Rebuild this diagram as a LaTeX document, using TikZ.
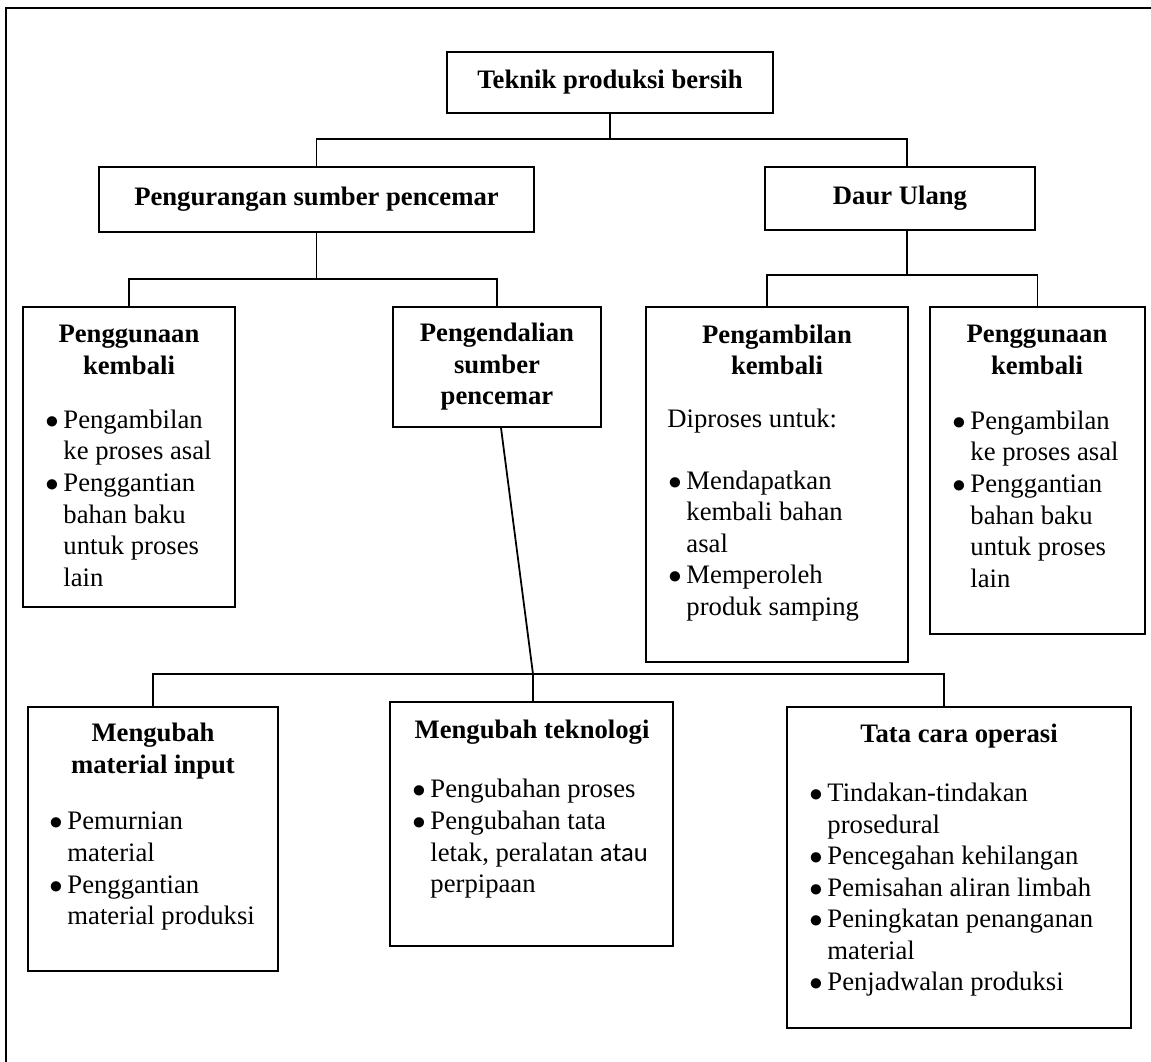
\documentclass[tikz,border=0pt]{standalone}
\usepackage{fontspec}
\setmainfont{Liberation Serif}
\newfontfamily\calibri{Carlito}
\usetikzlibrary{fit}
\newcommand{\px}{0.45pt}
\newcommand{\bodysize}{\fontsize{12}{14.2}\selectfont}
\newcommand{\blist}[1]{\begin{tabular}{@{}p{8.1pt}@{}l@{}}#1\end{tabular}}
\newcommand{\bul}{$\bullet$}

\begin{document}
\begin{tikzpicture}[x=0.45pt, y=-0.45pt,
    every node/.style={font=\bodysize, inner sep=0pt},
    box/.style={draw, line width=0.8pt},
    title/.style={align=center, font=\bodysize\bfseries},
    list/.style={anchor=west},
    link/.style={line width=0.8pt}]
  \useasboundingbox (0,0) rectangle (1151,1062);
  % page frame
  \draw[line width=1.1pt] (6,1062) -- (6,8) -- (1151,8);
  % top levels
  \node[box, fit={(447,52) (773,113)}] (top) {};
  \node[title] (topt) at (top) {Teknik produksi bersih};
  \node[box, fit={(99,167) (534,232)}] (reduce) {};
  \node[title] (reducet) at (reduce) {Pengurangan sumber pencemar};
  \node[box, fit={(765,167) (1035,230)}] (recycle) {};
  \node[title] (recyclet) at (recycle) {Daur Ulang};
  % boxes under Pengurangan
  \node[box, fit={(23,307) (235,607)}] (reuseA) {};
  \node[title] (reuseAt) at (129,350) {Penggunaan\\kembali};
  \node[list] (reuseAl) at (45,501) {\blist{%
    \bul & Pengambilan\\
         & ke proses asal\\
    \bul & Penggantian\\
         & bahan baku\\
         & untuk proses\\
         & lain}};
  \node[box, fit={(393,307) (601,427)}] (control) {};
  \node[title] (controlt) at (control) {Pengendalian\\sumber\\pencemar};
  % boxes under Daur Ulang
  \node[box, fit={(646,307) (908,662)}] (recover) {};
  \node[title] (recovert) at (777,350) {Pengambilan\\kembali};
  \node[list] (recoverp) at (667,421) {Diproses untuk:};
  \node[list] (recoverl) at (668,546) {\blist{%
    \bul & Mendapatkan\\
         & kembali bahan\\
         & asal\\
    \bul & Memperoleh\\
         & produk samping}};
  \node[box, fit={(930,307) (1145,634)}] (reuseB) {};
  \node[title] (reuseBt) at (1037,350) {Penggunaan\\kembali};
  \node[list] (reuseBl) at (952,502) {\blist{%
    \bul & Pengambilan\\
         & ke proses asal\\
    \bul & Penggantian\\
         & bahan baku\\
         & untuk proses\\
         & lain}};
  % boxes under Pengendalian
  \node[box, fit={(28,707) (278,971)}] (material) {};
  \node[title] (materialt) at (153,751) {Mengubah\\material input};
  \node[list] (materiall) at (49,871) {\blist{%
    \bul & Pemurnian\\
         & material\\
    \bul & Penggantian\\
         & material produksi}};
  \node[box, fit={(390,702) (673,946)}] (tech) {};
  \node[title] (techt) at (532,732) {Mengubah teknologi};
  \node[list] (techl) at (412,839) {\blist{%
    \bul & Pengubahan proses\\
    \bul & Pengubahan tata\\
         & letak, peralatan {\calibri atau}\\
         & perpipaan}};
  \node[box, fit={(787,707) (1131,1028)}] (ops) {};
  \node[title] (opst) at (959,736) {Tata cara operasi};
  \node[list] (opsl) at (809,890) {\blist{%
    \bul & Tindakan-tindakan\\
         & prosedural\\
    \bul & Pencegahan kehilangan\\
    \bul & Pemisahan aliran limbah\\
    \bul & Peningkatan penanganan\\
         & material\\
    \bul & Penjadwalan produksi}};
  % connectors
  \coordinate (j1) at (609,139);
  \draw[link] (top.south) -- (top.south |- j1);
  \draw[link] (reduce.north) |- (j1) -| ([xshift=7*\px]recycle.north);
  \draw[link] (reduce.south) -- ++(0,46) coordinate (j2);
  \draw[link] (reuseA.north) |- (j2) -| (control.north);
  \draw[link] ([xshift=7*\px]recycle.south) -- ++(0,44) coordinate (j3);
  \draw[link] ([xshift=-10*\px]recover.north) |- (j3) -| (reuseB.north);
  \coordinate (j4) at (533,674);
  \draw[link] ([xshift=4*\px]control.south) -- (j4);
  \draw[link] (material.north) |- (j4) -| ([xshift=-15*\px]ops.north);
  \draw[link] (j4) -- (j4 |- tech.north);
\end{tikzpicture}
\end{document}
